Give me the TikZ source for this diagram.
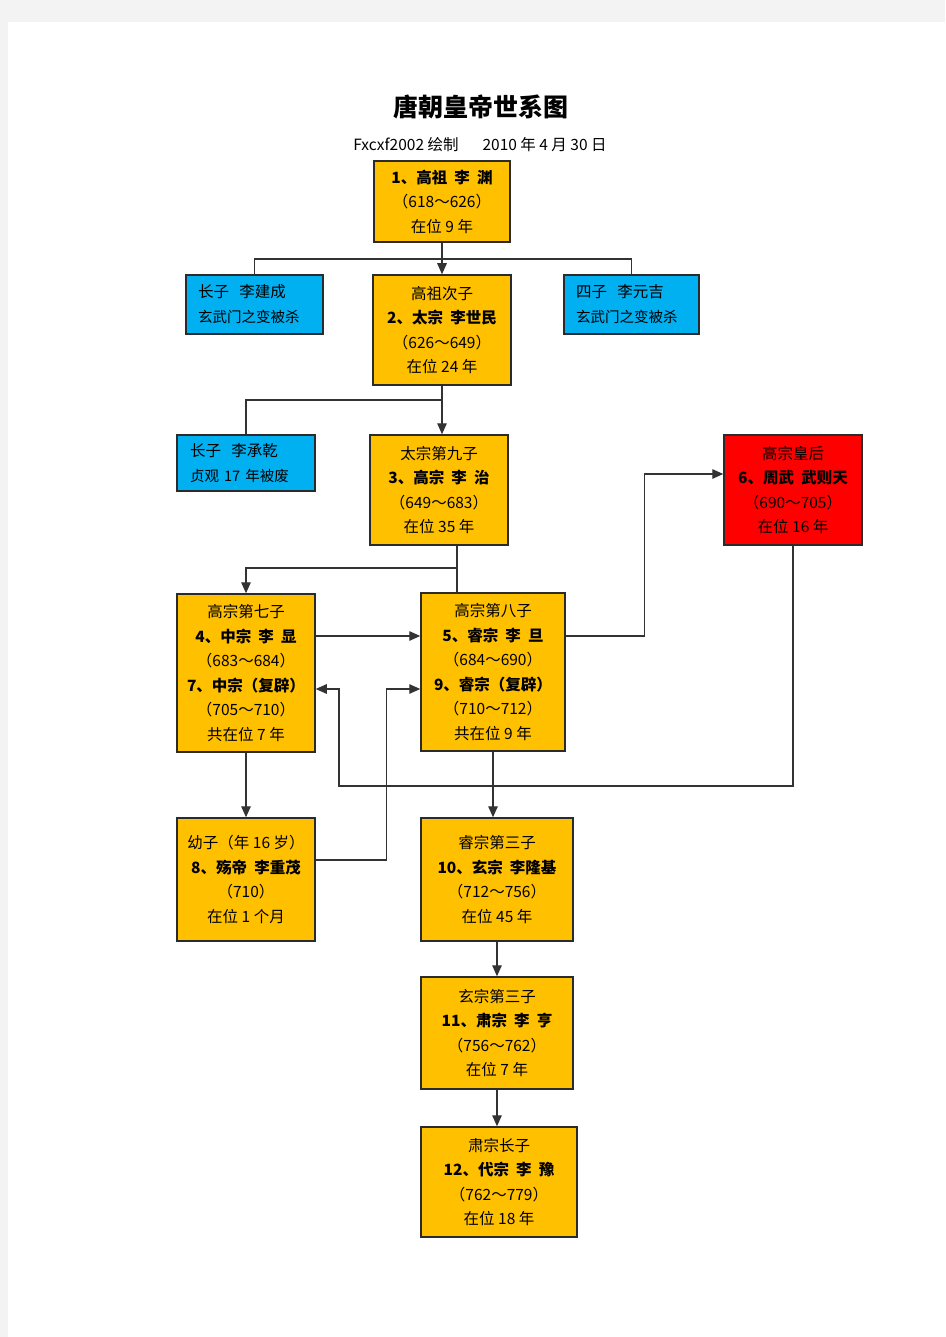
\documentclass[tikz,border=0pt]{standalone}
\usepackage{fontspec}
\newfontfamily\cjk{Noto Sans CJK SC}
\usetikzlibrary{arrows.meta}
\definecolor{bgray}{HTML}{F3F3F3}
\definecolor{yel}{HTML}{FFC000}
\definecolor{blu}{HTML}{00B0F0}
\definecolor{rd}{HTML}{FF0000}
\definecolor{edge}{HTML}{2B2B2B}
\definecolor{ln}{HTML}{333333}
\tikzset{
  box/.style={draw=edge, line width=1.5pt, inner sep=0pt, align=center,
    font=\cjk\fontsize{15.5}{24.5}\selectfont, anchor=center},
  ybox/.style={box, fill=yel},
  rbox/.style={box, fill=rd},
  bbox/.style={box, fill=blu, align=left, font=\cjk\fontsize{15.5}{25}\selectfont},
  conn/.style={draw=ln, line width=1.4pt},
  arr/.style={conn, -{Triangle[length=11pt,width=9.5pt]}},
}
\begin{document}
\begin{tikzpicture}[x=1pt,y=-1pt]
\useasboundingbox (0,0) rectangle (945,1337);
\fill[bgray] (0,0) rectangle (945,1337);
\fill[white] (8,22) rectangle (945,1337);

\node[font=\cjk\bfseries\fontsize{25}{28}\selectfont] (title) at (481,107) {唐朝皇帝世系图};
\node[font=\cjk\fontsize{15.5}{18}\selectfont] (sub) at (480,145) {Fxcxf2002 绘制\hspace{24pt}2010 年 4 月 30 日};

\node[ybox, minimum width=136pt, minimum height=81pt] (b1) at (442,201.5)
  {\textbf{1、高祖\ \ 李\ \ 渊}\\（618～626）\\在位 9 年};
\node[bbox, minimum width=137pt, minimum height=59pt, text width=113pt] (jc) at (254.5,304.5)
  {长子\ \ 李建成\\{\fontsize{14.5}{25}\selectfont 玄武门之变被杀}};
\node[ybox, minimum width=138pt, minimum height=110pt] (b2) at (442,330)
  {高祖次子\\\textbf{2、太宗\ \ 李世民}\\（626～649）\\在位 24 年};
\node[bbox, minimum width=135pt, minimum height=59pt, text width=111pt] (yj) at (631.5,304.5)
  {四子\ \ 李元吉\\{\fontsize{14.5}{25}\selectfont 玄武门之变被杀}};
\node[bbox, minimum width=138pt, minimum height=56pt, text width=112pt] (cq) at (246,463)
  {长子\ \ 李承乾\\{\fontsize{14.5}{25}\selectfont 贞观 17 年被废}};
\node[ybox, minimum width=138pt, minimum height=110pt] (b3) at (439,490)
  {太宗第九子\\\textbf{3、高宗\ \ 李\ \ 治}\\（649～683）\\在位 35 年};
\node[rbox, minimum width=138pt, minimum height=110pt] (b6) at (793,490)
  {高宗皇后\\\textbf{6、周武\ \ 武则天}\\（690～705）\\在位 16 年};
\node[ybox, minimum width=138pt, minimum height=158pt] (b4) at (246,673)
  {高宗第七子\\\textbf{4、中宗\ \ 李\ \ 显}\\（683～684）\\\textbf{7、中宗（复辟）}\\（705～710）\\共在位 7 年};
\node[ybox, minimum width=144pt, minimum height=158pt] (b5) at (493,672)
  {高宗第八子\\\textbf{5、睿宗\ \ 李\ \ 旦}\\（684～690）\\\textbf{9、睿宗（复辟）}\\（710～712）\\共在位 9 年};
\node[ybox, minimum width=138pt, minimum height=123pt] (b8) at (246,879.5)
  {幼子（年 16 岁）\\\textbf{8、殇帝\ \ 李重茂}\\（710）\\在位 1 个月};
\node[ybox, minimum width=152pt, minimum height=123pt] (b10) at (497,879.5)
  {睿宗第三子\\\textbf{10、玄宗\ \ 李隆基}\\（712～756）\\在位 45 年};
\node[ybox, minimum width=152pt, minimum height=112pt] (b11) at (497,1033)
  {玄宗第三子\\\textbf{11、肃宗\ \ 李\ \ 亨}\\（756～762）\\在位 7 年};
\node[ybox, minimum width=156pt, minimum height=110pt] (b12) at (499,1182)
  {肃宗长子\\\textbf{12、代宗\ \ 李\ \ 豫}\\（762～779）\\在位 18 年};

% connectors
\coordinate (j1) at (442,259);
\coordinate (j2) at (442,400);
\coordinate (j3) at (457,568);
\coordinate (j6) at (339,786);
\draw[conn] (jc.north) |- (j1) -| (yj.north);
\draw[arr] (b1.south) -- (b2.north);
\draw[conn] (cq.north) |- (j2);
\draw[arr] (b2.south) -- (b2.south |- b3.north);
\draw[conn] (j3 |- b3.south) -- (j3 |- b5.north);
\draw[arr] (j3) -| (b4.north);
\draw[arr] ([yshift=37pt]b4.east) -- ([yshift=37pt]b4.east -| b5.west);
\draw[arr] ([yshift=36pt]b5.east) -- ++(79,0) |- ([yshift=16pt]b6.west);
\draw[arr] (b6.south) |- (j6) |- ([yshift=-16pt]b4.east);
\draw[arr] (b4.south) -- (b8.north);
\draw[arr] ([yshift=19.5pt]b8.east) -- ++(71,0) |- ([yshift=-17pt]b5.west);
\draw[arr] (b5.south) -- (b5.south |- b10.north);
\draw[arr] (b10.south) -- (b11.north);
\draw[arr] (b11.south) -- (b11.south |- b12.north);
\end{tikzpicture}
\end{document}
